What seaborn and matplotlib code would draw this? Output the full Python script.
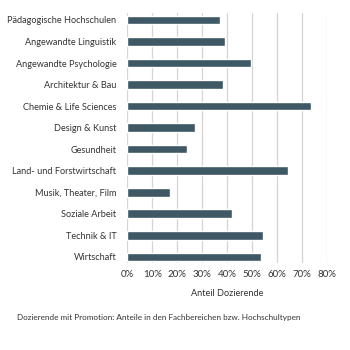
import matplotlib
matplotlib.use("Agg")
import matplotlib.pyplot as plt
import seaborn as sns
import pandas as pd
from matplotlib.ticker import PercentFormatter

categories = ["Pädagogische Hochschulen", "Angewandte Linguistik", "Angewandte Psychologie",
              "Architektur & Bau", "Chemie & Life Sciences", "Design & Kunst", "Gesundheit",
              "Land- und Forstwirtschaft", "Musik, Theater, Film", "Soziale Arbeit",
              "Technik & IT", "Wirtschaft"]
values = [0.373, 0.392, 0.498, 0.385, 0.736, 0.272, 0.241, 0.644, 0.170, 0.420, 0.545, 0.537]
xticks = [0, 0.1, 0.2, 0.3, 0.4, 0.5, 0.6, 0.7, 0.8]

df = pd.DataFrame({"Fachbereich": categories, "Anteil": values})

sns.set_theme(style="white")
plt.rcParams['font.family'] = ['Lato', 'DejaVu Sans']
txt = "#333333"

fig = plt.figure(figsize=(3.5, 3.5), dpi=100)
ax = fig.add_axes([0.364, 0.249, 0.569, 0.713])
sns.barplot(data=df, y="Fachbereich", x="Anteil", orient="h", color="#3f5865",
            width=0.4, saturation=1, ax=ax, zorder=3)
ax.set_xlim(0, 0.8)
ax.set_ylim(11.28, -0.31)
ax.set_xticks(xticks)
ax.xaxis.set_major_formatter(PercentFormatter(1.0, decimals=0))
ax.grid(axis="x", color="#d4d4d4", linewidth=0.9, zorder=0)
ax.grid(axis="y", visible=False)
for s in ax.spines.values():
    s.set_visible(False)
ax.tick_params(axis="both", length=0, labelsize=6.6, colors=txt)
ax.tick_params(axis="x", labelsize=7.0, pad=5)
ax.tick_params(axis="y", pad=8)
ax.set_ylabel("")
ax.set_xlabel("Anteil Dozierende", fontsize=6.6, color=txt, labelpad=7)
fig.text(0.049, 0.094, "Dozierende mit Promotion: Anteile in den Fachbereichen bzw. Hochschultypen",
         fontsize=5.9, color=txt, va="center", ha="left")
fig.savefig("out.png", dpi=100, facecolor="white")
